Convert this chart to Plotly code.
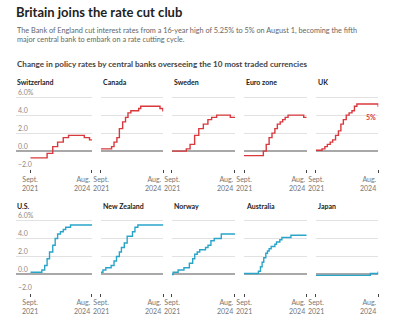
import plotly.graph_objects as go
from datetime import date, timedelta

# ---- policy rate history (date of change, new rate in %) ----
switzerland_dates = ["2021-09-01", "2022-06-16", "2022-09-22", "2022-12-15", "2023-03-23",
                     "2023-06-22", "2024-03-21", "2024-06-20"]
switzerland_rates = [-0.75, -0.25, 0.5, 1.0, 1.5, 1.75, 1.5, 1.25]

canada_dates = ["2021-09-01", "2022-03-02", "2022-04-13", "2022-06-01", "2022-07-13", "2022-09-07",
                "2022-10-26", "2022-12-07", "2023-01-25", "2023-06-07", "2023-07-12", "2024-06-05",
                "2024-07-24"]
canada_rates = [0.25, 0.5, 1.0, 1.5, 2.5, 3.25, 3.75, 4.25, 4.5, 4.75, 5.0, 4.75, 4.5]

sweden_dates = ["2021-09-01", "2022-05-04", "2022-07-06", "2022-09-21", "2022-11-30", "2023-02-15",
                "2023-05-03", "2023-07-05", "2023-09-27", "2024-05-15"]
sweden_rates = [0.0, 0.25, 0.75, 1.75, 2.5, 3.0, 3.5, 3.75, 4.0, 3.75]

euro_dates = ["2021-09-01", "2022-07-27", "2022-09-14", "2022-11-02", "2022-12-21", "2023-02-08",
              "2023-03-22", "2023-05-10", "2023-06-21", "2023-08-02", "2023-09-20", "2024-06-12"]
euro_rates = [-0.5, 0.0, 0.75, 1.5, 2.0, 2.5, 3.0, 3.25, 3.5, 3.75, 4.0, 3.75]

uk_dates = ["2021-09-01", "2021-12-16", "2022-02-03", "2022-03-17", "2022-05-05", "2022-06-16",
            "2022-08-04", "2022-09-22", "2022-11-03", "2022-12-15", "2023-02-02", "2023-03-23",
            "2023-05-11", "2023-06-22", "2023-08-03", "2024-08-01"]
uk_rates = [0.1, 0.25, 0.5, 0.75, 1.0, 1.25, 1.75, 2.25, 3.0, 3.5, 4.0, 4.25, 4.5, 5.0, 5.25, 5.0]

us_dates = ["2021-09-01", "2022-03-17", "2022-05-05", "2022-06-16", "2022-07-28", "2022-09-22",
            "2022-11-03", "2022-12-15", "2023-02-02", "2023-03-23", "2023-05-04", "2023-07-27"]
us_rates = [0.25, 0.5, 1.0, 1.75, 2.5, 3.25, 4.0, 4.5, 4.75, 5.0, 5.25, 5.5]

nz_dates = ["2021-09-01", "2021-10-06", "2021-11-24", "2022-02-23", "2022-04-13", "2022-05-25",
            "2022-07-13", "2022-08-17", "2022-10-05", "2022-11-23", "2023-02-22", "2023-04-05",
            "2023-05-24"]
nz_rates = [0.25, 0.5, 0.75, 1.0, 1.5, 2.0, 2.5, 3.0, 3.5, 4.25, 4.75, 5.25, 5.5]

norway_dates = ["2021-09-01", "2021-09-24", "2021-12-17", "2022-03-25", "2022-06-24", "2022-08-19",
                "2022-09-23", "2022-11-04", "2022-12-16", "2023-03-24", "2023-05-05", "2023-06-23",
                "2023-08-18", "2023-12-15"]
norway_rates = [0.0, 0.25, 0.5, 0.75, 1.25, 1.75, 2.25, 2.5, 2.75, 3.0, 3.25, 3.75, 4.0, 4.5]

australia_dates = ["2021-09-01", "2022-05-04", "2022-06-08", "2022-07-06", "2022-08-03", "2022-09-07",
                   "2022-10-05", "2022-11-02", "2022-12-07", "2023-02-08", "2023-03-08", "2023-05-03",
                   "2023-06-07", "2023-11-08"]
australia_rates = [0.1, 0.35, 0.85, 1.35, 1.85, 2.35, 2.6, 2.85, 3.1, 3.35, 3.6, 3.85, 4.1, 4.35]

japan_dates = ["2021-09-01", "2024-03-19", "2024-07-31"]
japan_rates = [-0.1, 0.1, 0.25]

panel_names = ["Switzerland", "Canada", "Sweden", "Euro zone", "UK",
               "U.S.", "New Zealand", "Norway", "Australia", "Japan"]
panel_series = [(switzerland_dates, switzerland_rates), (canada_dates, canada_rates),
                (sweden_dates, sweden_rates), (euro_dates, euro_rates), (uk_dates, uk_rates),
                (us_dates, us_rates), (nz_dates, nz_rates), (norway_dates, norway_rates),
                (australia_dates, australia_rates), (japan_dates, japan_rates)]

y_tick_values = [-2, 0, 2, 4, 6]
y_tick_labels = ["\u22122.0", "0.0", "2.0", "4.0", "6.0%"]
x_tick_dates = ["2021-09-01", "2024-08-01"]
x_tick_labels = ["Sept.<br>2021", "Aug.<br>2024"]
series_end = "2024-08-02"
uk_label = "5%"

# ---- layout geometry (pixels) ----
W, H = 397, 322
RED, BLUE = "#d9383d", "#2aa5ca"
FONT = "Lato"
col_left = [30.5, 100.9, 171.8, 244.0, 315.8]
col_right = [92.0, 163.4, 235.0, 306.7, 378.3]
first_col_grid_left = 16.0
row_zero = [151.2, 274.5]
px_per_unit = 9.0
y_lo, y_hi = -2.0, 7.0


def px(x):
    return x / W


def py(y):
    return 1 - y / H


d_start = date(2021, 9, 1)
d_end = date(2024, 8, 2)
span_days = (d_end - d_start).days

fig = go.Figure()
annotations = []

for i, (name, (dates, rates)) in enumerate(zip(panel_names, panel_series)):
    row, col = divmod(i, 5)
    n = i + 1
    xa = "xaxis" if n == 1 else f"xaxis{n}"
    ya = "yaxis" if n == 1 else f"yaxis{n}"
    xr = "x" if n == 1 else f"x{n}"
    yr = "y" if n == 1 else f"y{n}"

    left, right = col_left[col], col_right[col]
    range_start = d_start
    if col == 0:
        # first column: grid area extends left to hold the value labels
        extra = (left - first_col_grid_left) / (right - left) * span_days
        range_start = d_start - timedelta(days=extra)
        left = first_col_grid_left

    zero = row_zero[row]
    top = zero - y_hi * px_per_unit
    bottom = zero - y_lo * px_per_unit

    color = RED if row == 0 else BLUE
    xs = list(dates) + [series_end]
    ys = list(rates) + [rates[-1]]
    fig.add_trace(go.Scatter(x=xs, y=ys, mode="lines", line=dict(color=color, width=1.4, shape="hv"),
                             xaxis=xr, yaxis=yr, hoverinfo="skip", showlegend=False))

    fig.layout[xa] = dict(domain=[px(left), px(right)], anchor=yr, type="date",
                          range=[range_start.isoformat(), d_end.isoformat()],
                          tickmode="array", tickvals=x_tick_dates, showticklabels=False,
                          ticks="outside", ticklen=3, tickwidth=1, tickcolor="#444",
                          showgrid=False, showline=False, zeroline=False, fixedrange=True)
    # grid lines at 2, 4, 6 (the -2 line is painted white, 0 is the zero line)
    fig.layout[ya] = dict(domain=[py(bottom), py(top)], anchor=xr, range=[y_lo - 0.01, y_hi],
                          tickmode="array", tickvals=y_tick_values[1:],
                          showticklabels=False, ticks="",
                          showgrid=True, gridcolor="#e2e2e2", gridwidth=1,
                          zeroline=True, zerolinecolor="#a8a8a8", zerolinewidth=1.6,
                          showline=False, fixedrange=True)

    # panel title
    title_y = zero - 6.0 * px_per_unit - 15
    annotations.append(dict(text=f"<b>{name}</b>", xref="paper", yref="paper",
                            x=px(15 if col == 0 else col_left[col]), y=py(title_y),
                            xanchor="left", yanchor="middle", showarrow=False,
                            font=dict(size=7, color="#222", family=FONT)))
    # date labels under the two ticks
    annotations.append(dict(text=x_tick_labels[0], xref=xr, yref=yr, x=x_tick_dates[0], y=y_lo,
                            xanchor="center", yanchor="top", yshift=-4, showarrow=False,
                            align="center", font=dict(size=7, color="#777", family=FONT)))
    annotations.append(dict(text=x_tick_labels[1], xref=xr, yref=yr, x=x_tick_dates[1], y=y_lo,
                            xanchor="right", yanchor="top", yshift=-4, xshift=1, showarrow=False,
                            align="right", font=dict(size=7, color="#777", family=FONT)))
    if col == 0:
        # value labels sit just above their grid lines
        for v, t in zip(y_tick_values, y_tick_labels):
            annotations.append(dict(text=t, xref="paper", yref=yr, x=px(first_col_grid_left),
                                    y=v, xanchor="left", yanchor="bottom", yshift=-1,
                                    showarrow=False,
                                    font=dict(size=7, color="#8a8a8a", family=FONT)))
    if name == "UK":
        annotations.append(dict(text=f"<b>{uk_label}</b>", xref=xr, yref=yr, x=series_end,
                                y=uk_rates[-1], xanchor="right", yanchor="top", yshift=-5,
                                showarrow=False, font=dict(size=7, color=RED, family=FONT)))

annotations += [
    dict(text="<b>Britain joins the rate cut club</b>", xref="paper", yref="paper",
         x=px(14), y=py(12), xanchor="left", yanchor="middle", showarrow=False,
         font=dict(size=13, color="#222", family=FONT)),
    dict(text="The Bank of England cut interest rates from a 16-year high of 5.25% to 5% on August 1, "
              "becoming the fifth<br>major central bank to embark on a rate cutting cycle.",
         xref="paper", yref="paper", x=px(15), y=py(24), xanchor="left", yanchor="top",
         align="left", showarrow=False, font=dict(size=7.3, color="#666", family=FONT)),
    dict(text="<b>Change in policy rates by central banks overseeing the 10 most traded currencies</b>",
         xref="paper", yref="paper", x=px(15), y=py(64), xanchor="left", yanchor="middle",
         showarrow=False, font=dict(size=8.1, color="#444", family=FONT)),
]

fig.update_layout(width=W, height=H, margin=dict(l=0, r=0, t=0, b=0),
                  paper_bgcolor="white", plot_bgcolor="white",
                  font=dict(family=FONT), annotations=annotations, showlegend=False)

fig.write_html("out.html", config={"displayModeBar": False})
